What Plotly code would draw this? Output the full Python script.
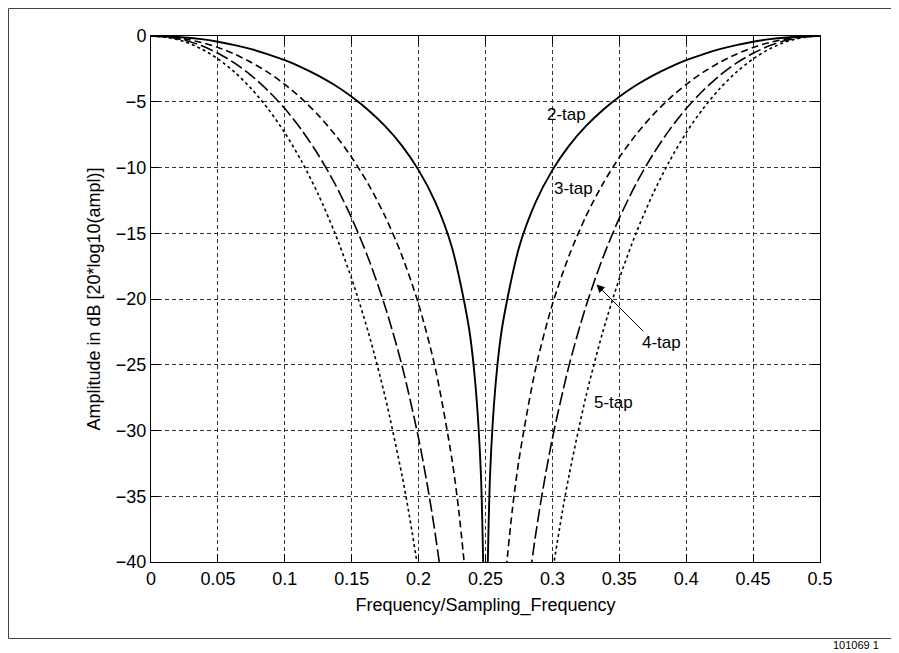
import plotly.graph_objects as go

# ---- data ----
X_TICKS = [0, 0.05, 0.1, 0.15, 0.2, 0.25, 0.3, 0.35, 0.4, 0.45, 0.5]
X_TICK_LABELS = ["0", "0.05", "0.1", "0.15", "0.2", "0.25", "0.3", "0.35", "0.4", "0.45", "0.5"]
Y_TICKS = [0, -5, -10, -15, -20, -25, -30, -35, -40]
Y_TICK_LABELS = ["0", "\u22125", "\u221210", "\u221215", "\u221220", "\u221225", "\u221230", "\u221235", "\u221240"]

# 2-tap
F2_L = [0, 0.0125, 0.025, 0.0375, 0.05, 0.0625, 0.075, 0.0875, 0.1, 0.1125, 0.125, 0.1375, 0.15,
        0.1625, 0.175, 0.1875, 0.2, 0.2125, 0.225, 0.2375, 0.2425, 0.2465, 0.249]
D2_L = [0, -0.03, -0.11, -0.24, -0.44, -0.69, -1.0, -1.39, -1.84, -2.38, -3.01, -3.75, -4.62,
        -5.64, -6.86, -8.34, -10.2, -12.64, -16.11, -22.11, -26.54, -33.16, -44.0]
F2_R = [0.251, 0.2535, 0.2575, 0.2625, 0.275, 0.2875, 0.3, 0.3125, 0.325, 0.3375, 0.35, 0.3625,
        0.375, 0.3875, 0.4, 0.4125, 0.425, 0.4375, 0.45, 0.4625, 0.475, 0.4875, 0.5]
D2_R = [-44.0, -33.16, -26.54, -22.11, -16.11, -12.64, -10.2, -8.34, -6.86, -5.64, -4.62, -3.75,
        -3.01, -2.38, -1.84, -1.39, -1.0, -0.69, -0.44, -0.24, -0.11, -0.03, 0]

# 3-tap
F3_L = [0, 0.0125, 0.025, 0.0375, 0.05, 0.0625, 0.075, 0.0875, 0.1, 0.1125, 0.125, 0.1375, 0.15,
        0.1625, 0.175, 0.1875, 0.2, 0.2125, 0.225, 0.23, 0.2345]
D3_L = [0, -0.05, -0.22, -0.49, -0.87, -1.38, -2.01, -2.77, -3.68, -4.76, -6.02, -7.50, -9.23,
        -11.28, -13.72, -16.69, -20.40, -25.27, -32.23, -36.08, -40.48]
F3_R = [0.2655, 0.27, 0.275, 0.2875, 0.3, 0.3125, 0.325, 0.3375, 0.35, 0.3625, 0.375, 0.3875,
        0.4, 0.4125, 0.425, 0.4375, 0.45, 0.4625, 0.475, 0.4875, 0.5]
D3_R = [-40.48, -36.08, -32.23, -25.27, -20.40, -16.69, -13.72, -11.28, -9.23, -7.50, -6.02,
        -4.76, -3.68, -2.77, -2.01, -1.38, -0.87, -0.49, -0.22, -0.05, 0]

# 4-tap
F4_L = [0, 0.0125, 0.025, 0.0375, 0.05, 0.0625, 0.075, 0.0875, 0.1, 0.1125, 0.125, 0.1375, 0.15,
        0.1625, 0.175, 0.1875, 0.2, 0.2075, 0.2125, 0.2165]
D4_L = [0, -0.08, -0.32, -0.73, -1.31, -2.06, -3.01, -4.16, -5.52, -7.14, -9.03, -11.25, -13.85,
        -16.92, -20.58, -25.03, -30.60, -34.72, -37.91, -40.8]
F4_R = [0.2835, 0.2875, 0.2925, 0.3, 0.3125, 0.325, 0.3375, 0.35, 0.3625, 0.375, 0.3875, 0.4,
        0.4125, 0.425, 0.4375, 0.45, 0.4625, 0.475, 0.4875, 0.5]
D4_R = [-40.8, -37.91, -34.72, -30.60, -25.03, -20.58, -16.92, -13.85, -11.25, -9.03, -7.14,
        -5.52, -4.16, -3.01, -2.06, -1.31, -0.73, -0.32, -0.08, 0]

# 5-tap
F5_L = [0, 0.0125, 0.025, 0.0375, 0.05, 0.0625, 0.075, 0.0875, 0.1, 0.1125, 0.125, 0.1375, 0.15,
        0.1625, 0.175, 0.1875, 0.1925, 0.2]
D5_L = [0, -0.11, -0.43, -0.97, -1.74, -2.75, -4.01, -5.54, -7.36, -9.52, -12.04, -15.00, -18.46,
        -22.56, -27.44, -33.37, -36.13, -40.80]
F5_R = [0.3, 0.3075, 0.3125, 0.325, 0.3375, 0.35, 0.3625, 0.375, 0.3875, 0.4, 0.4125, 0.425,
        0.4375, 0.45, 0.4625, 0.475, 0.4875, 0.5]
D5_R = [-40.80, -36.13, -33.37, -27.44, -22.56, -18.46, -15.00, -12.04, -9.52, -7.36, -5.54,
        -4.01, -2.75, -1.74, -0.97, -0.43, -0.11, 0]

LABELS = ["2-tap", "3-tap", "4-tap", "5-tap"]
FIG_ID = "101069 1"

FONT = "Liberation Sans, Arial, Helvetica, sans-serif"

# plot-area geometry in figure pixels
W, H = 899, 653
PL, PT, PW, PH = 143, 28, 669, 526


def px(fx):
    return (fx - PL) / PW


def py(fy):
    return (PT + PH - fy) / PH


fig = go.Figure()

styles = [
    (F2_L, D2_L, F2_R, D2_R, "solid", 1.9),
    (F3_L, D3_L, F3_R, D3_R, "7px,4px", 1.6),
    (F4_L, D4_L, F4_R, D4_R, "13px,4px", 1.6),
    (F5_L, D5_L, F5_R, D5_R, "3px,3px", 1.6),
]
for (fl, dl, fr, dr, dash, w), name in zip(styles, LABELS):
    fig.add_trace(go.Scatter(
        x=list(fl) + [None] + list(fr),
        y=list(dl) + [None] + list(dr),
        mode="lines", name=name, connectgaps=False,
        line=dict(color="black", width=w, dash=dash, shape="spline", smoothing=0.8),
        showlegend=False, hoverinfo="skip",
    ))

axis_common = dict(
    showline=True, linecolor="black", linewidth=1, mirror="ticks",
    ticks="inside", ticklen=8, tickcolor="black", tickwidth=1,
    showgrid=True, gridcolor="#333333", gridwidth=1, griddash="4px,3px",
    zeroline=False, tickfont=dict(family=FONT, size=18, color="black"),
)

fig.update_xaxes(
    range=[0, 0.5], tickvals=X_TICKS, ticktext=X_TICK_LABELS,
    title=dict(text="Frequency/Sampling_Frequency", font=dict(family=FONT, size=18, color="black"), standoff=10),
    **axis_common,
)
fig.update_yaxes(
    range=[-40, 0], tickvals=Y_TICKS, ticktext=Y_TICK_LABELS,
    title=dict(text="Amplitude in dB [20*log10(ampl)]", font=dict(family=FONT, size=18, color="black"), standoff=10),
    **axis_common,
)

ann_font = dict(family=FONT, size=17, color="black")
fig.add_annotation(x=0.3103, y=-6.0, xref="x", yref="y", text=LABELS[0], showarrow=False, font=ann_font)
fig.add_annotation(x=0.3155, y=-11.6, xref="x", yref="y", text=LABELS[1], showarrow=False, font=ann_font)
fig.add_annotation(x=0.3812, y=-23.3, xref="x", yref="y", text=LABELS[2], showarrow=False, font=ann_font)
fig.add_annotation(x=0.346, y=-27.9, xref="x", yref="y", text=LABELS[3], showarrow=False, font=ann_font)
# arrow from the 4-tap label to its curve
fig.add_annotation(x=0.333, y=-18.9, xref="x", yref="y", text="", showarrow=True,
                   ax=48, ay=48, arrowhead=2, arrowsize=1.6, arrowwidth=1, arrowcolor="black")

# outer frame of the figure
fig.add_shape(type="rect", xref="paper", yref="paper",
              x0=px(0.5), x1=px(910), y0=py(630.5), y1=py(0.5),
              line=dict(color="#444444", width=1), fillcolor="rgba(0,0,0,0)", layer="below")

fig.add_annotation(x=px(872), y=py(637), xref="paper", yref="paper", xanchor="right", yanchor="middle",
                   text=FIG_ID, showarrow=False, borderpad=0,
                   font=dict(family=FONT, size=11, color="black"))

fig.update_layout(
    width=W, height=H,
    margin=dict(l=PL, r=W - PL - PW, t=PT, b=H - PT - PH),
    paper_bgcolor="white", plot_bgcolor="white",
    font=dict(family=FONT, color="black"),
)

fig.write_html("out.html")
